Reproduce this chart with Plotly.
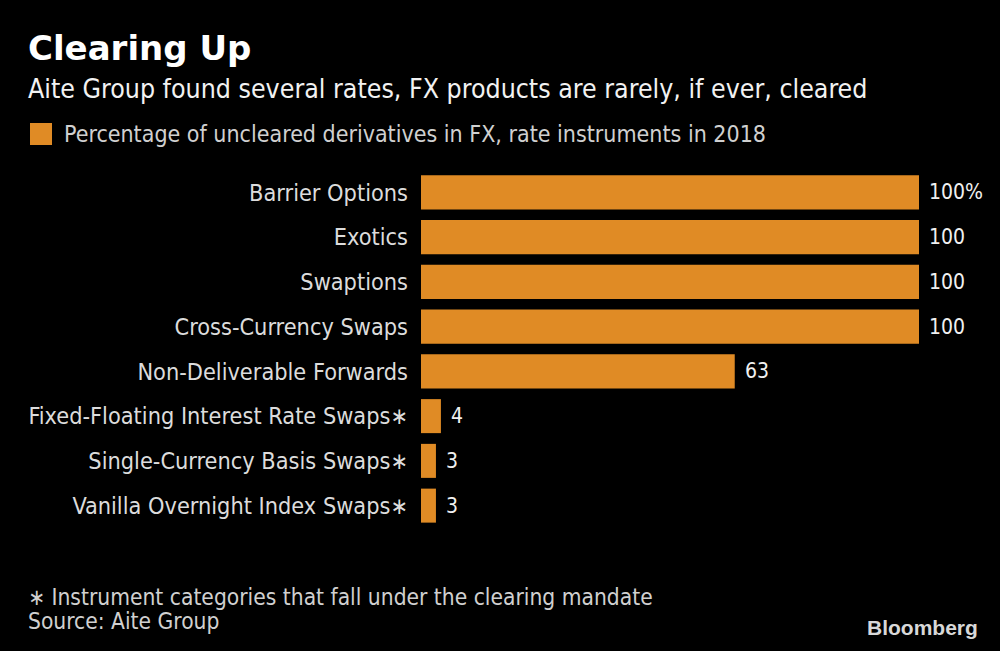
import plotly.graph_objects as go

categories = [
    "Barrier Options",
    "Exotics",
    "Swaptions",
    "Cross-Currency Swaps",
    "Non-Deliverable Forwards",
    "Fixed-Floating Interest Rate Swaps∗",
    "Single-Currency Basis Swaps∗",
    "Vanilla Overnight Index Swaps∗",
]
values = [100, 100, 100, 100, 63, 4, 3, 3]
value_labels = ["100%", "100", "100", "100", "63", "4", "3", "3"]

ORANGE = "#E08B25"
FONT = "DejaVu Sans Condensed, DejaVu Sans"

fig = go.Figure()
fig.add_trace(go.Bar(
    y=categories, x=values, orientation="h",
    marker=dict(color=ORANGE, line=dict(width=0)),
    hoverinfo="skip", showlegend=False,
))

for c, v, t in zip(categories, values, value_labels):
    fig.add_annotation(x=v, y=c, xref="x", yref="y", text=t, showarrow=False,
                       xanchor="left", xshift=8, font=dict(family=FONT, size=21, color="#f0f0f0"))

fig.update_layout(
    width=1000, height=651,
    paper_bgcolor="black", plot_bgcolor="black",
    margin=dict(l=0, r=0, t=0, b=0),
    bargap=0.24,
    font=dict(family=FONT, color="#e0e0e0"),
    xaxis=dict(domain=[0.421, 0.919], range=[0, 100], visible=False, fixedrange=True),
    yaxis=dict(domain=[1 - 528 / 651, 1 - 170 / 651], autorange="reversed",
               showgrid=False, zeroline=False, showline=False, ticks="",
               ticklabelstandoff=12, automargin=False, fixedrange=True,
               tickfont=dict(family=FONT, size=23.3, color="#dcdcdc")),
)

# Title & subtitle
fig.add_annotation(x=26 / 1000, y=1 - 48 / 651, xref="paper", yref="paper", xanchor="left", yanchor="middle",
                   text="<b>Clearing Up</b>", showarrow=False, font=dict(family="DejaVu Sans", size=34, color="white"))
fig.add_annotation(x=26 / 1000, y=1 - 88 / 651, xref="paper", yref="paper", xanchor="left", yanchor="middle",
                   text="Aite Group found several rates, FX products are rarely, if ever, cleared", showarrow=False,
                   font=dict(family=FONT, size=26.5, color="#f2f2f2"))

# Legend
fig.add_shape(type="rect", xref="paper", yref="paper", x0=30 / 1000, x1=52 / 1000,
              y0=1 - 145 / 651, y1=1 - 123 / 651, fillcolor=ORANGE, line=dict(width=0))
fig.add_annotation(x=62 / 1000, y=1 - 134 / 651, xref="paper", yref="paper", xanchor="left", yanchor="middle",
                   text="Percentage of uncleared derivatives in FX, rate instruments in 2018", showarrow=False,
                   font=dict(family=FONT, size=23, color="#d0d0d0"))

# Footer
fig.add_annotation(x=26 / 1000, y=1 - 597 / 651, xref="paper", yref="paper", xanchor="left", yanchor="middle",
                   text="∗ Instrument categories that fall under the clearing mandate", showarrow=False,
                   font=dict(family=FONT, size=22.6, color="#d0d0d0"))
fig.add_annotation(x=26 / 1000, y=1 - 621 / 651, xref="paper", yref="paper", xanchor="left", yanchor="middle",
                   text="Source: Aite Group", showarrow=False,
                   font=dict(family=FONT, size=22.6, color="#d0d0d0"))
fig.add_annotation(x=980 / 1000, y=1 - 627 / 651, xref="paper", yref="paper", xanchor="right", yanchor="middle",
                   text="<b>Bloomberg</b>", showarrow=False,
                   font=dict(family="Liberation Sans Narrow, Liberation Sans, Arial", size=21, color="#d8d8d8"))

fig.write_html("out.html", config={"displayModeBar": False},
               post_script="document.body.style.margin='0';document.body.style.overflow='hidden';")
